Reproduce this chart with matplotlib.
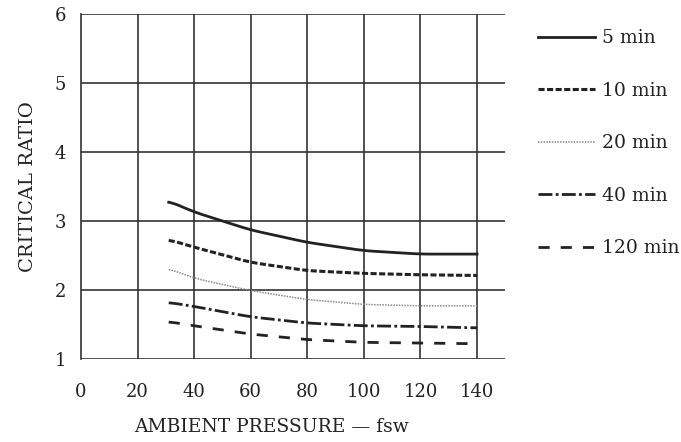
import numpy as np
import matplotlib.pyplot as plt

# --------------------------
# Data
# --------------------------
pressure = [31, 40, 60, 80, 100, 120, 140]
ratio_5 = [3.29, 3.13, 2.87, 2.69, 2.57, 2.52, 2.52]
ratio_10 = [2.73, 2.62, 2.40, 2.28, 2.24, 2.22, 2.21]
ratio_20 = [2.31, 2.17, 1.99, 1.86, 1.79, 1.77, 1.77]
ratio_40 = [1.82, 1.76, 1.61, 1.52, 1.48, 1.47, 1.45]
ratio_120 = [1.54, 1.48, 1.36, 1.28, 1.24, 1.23, 1.22]

x_ticks = [0, 20, 40, 60, 80, 100, 120, 140]
y_ticks = [1, 2, 3, 4, 5, 6]

plt.rcParams['font.family'] = ['DejaVu Serif']

fig = plt.figure(figsize=(6.81, 4.42), dpi=100)
ax = fig.add_axes([0.119, 0.188, 0.623, 0.780])

# smooth the read points a little so the curves have no corners
def smooth(xs, ys):
    xs = np.asarray(xs, float)
    xf = np.linspace(xs[0], xs[-1], 120)
    yf = np.interp(xf, xs, ys)
    k = 9
    pad = np.pad(yf, k // 2, mode='edge')
    yf = np.convolve(pad, np.ones(k) / k, mode='valid')
    return xf, yf

ink = '#222222'
styles = [
    (ratio_5, '5 min', dict(color=ink, lw=2.0, ls='-')),
    (ratio_10, '10 min', dict(color=ink, lw=2.2, ls=(0, (2.0, 0.8)))),
    (ratio_20, '20 min', dict(color='#8a8a8a', lw=1.1, ls=(0, (1, 0.8)))),
    (ratio_40, '40 min', dict(color=ink, lw=2.0, ls=(0, (5, 1.2, 1, 1.2)))),
    (ratio_120, '120 min', dict(color=ink, lw=2.0, ls=(0, (4, 4)))),
]

for ys, label, st in styles:
    xf, yf = smooth(pressure, ys)
    ax.plot(xf, yf, label=label, **st)

ax.set_xlim(0, 150)
ax.set_ylim(1, 6)
ax.set_xticks(x_ticks)
ax.set_yticks(y_ticks)
ax.tick_params(length=0, labelsize=13, colors='#222222')
ax.tick_params(axis='x', pad=17)
ax.tick_params(axis='y', pad=11)

# grid: vertical lines only up to 140, horizontal across the full width
for x in x_ticks[1:]:
    ax.axvline(x, color='#333333', lw=1.2, zorder=0)
for y in y_ticks:
    ax.axhline(y, color='#333333', lw=1.2, zorder=0)
for side in ['top', 'right', 'bottom']:
    ax.spines[side].set_visible(False)
ax.spines['left'].set_color('#333333')
ax.spines['left'].set_linewidth(1.2)

ax.set_ylabel('CRITICAL RATIO', fontsize=14, color='#222222')
ax.yaxis.set_label_coords(-0.104, 0.5)
ax.set_xlabel('AMBIENT PRESSURE — fsw', fontsize=13.5, color='#222222')
ax.xaxis.set_label_coords(0.448, -0.17)

fig.legend(loc='upper left', bbox_to_anchor=(0.765, 0.972), frameon=False,
           fontsize=13.5, handlelength=3.05, handletextpad=0.35, labelspacing=1.84,
           labelcolor='#222222')

plt.savefig('out.png', dpi=100)
